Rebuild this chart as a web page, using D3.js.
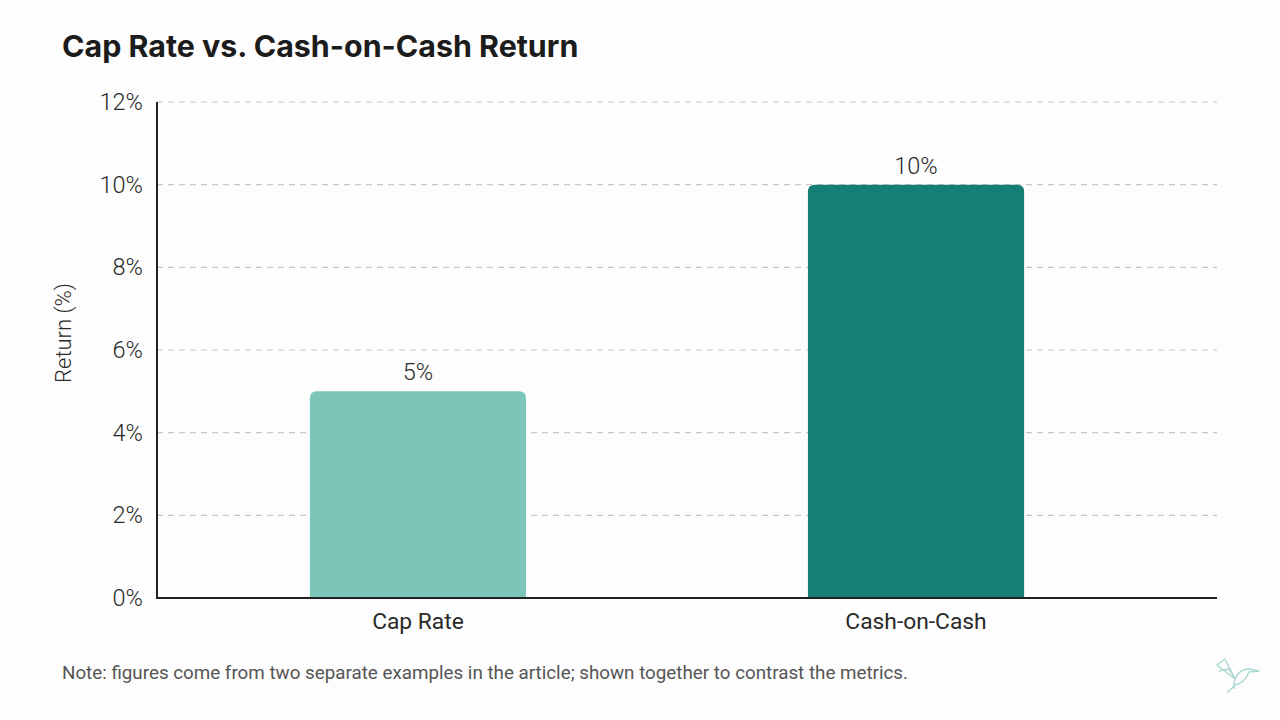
<!DOCTYPE html>
<html>
<head>
<meta charset="utf-8">
<script src="https://cdn.jsdelivr.net/npm/d3@7"></script>
<style>
  html, body { margin: 0; padding: 0; background: #fdfdfd; }
  svg { display: block; }
  text { font-family: Roboto, "Noto Sans", sans-serif; }
</style>
</head>
<body>
<svg id="chart" width="1280" height="720"></svg>
<script>
const categories = ["Cap Rate", "Cash-on-Cash"];
const values = [5, 10];
const barColors = ["#7bc6b9", "#147f75"];
const yTicks = [0, 2, 4, 6, 8, 10, 12];
const titleText = "Cap Rate vs. Cash-on-Cash Return";
const yAxisLabel = "Return (%)";
const noteText = "Note: figures come from two separate examples in the article; shown together to contrast the metrics.";

(function () {
const svg = d3.select("#chart");
const pLeft = 157, pRight = 1217, pTop = 102, pBottom = 598;
const bodyFont = "Roboto, sans-serif";

const y = d3.scaleLinear().domain([0, 12]).range([pBottom, pTop]);
const x = d3.scaleBand().domain(categories).range([pLeft, 1177]).paddingInner(0.566).paddingOuter(0.307);

svg.append("rect").attr("width", 1280).attr("height", 720).attr("fill", "#fdfdfd");

// title
svg.append("text").attr("x", 62).attr("y", 57)
  .style("font-family", "Inter, sans-serif")
  .attr("font-size", 30.4).attr("font-weight", 700).attr("fill", "#1c1c1c")
  .text(titleText);

// grid
svg.append("g").selectAll("line").data(yTicks.filter(d => d > 0)).join("line")
  .attr("x1", pLeft).attr("x2", pRight)
  .attr("y1", d => y(d)).attr("y2", d => y(d))
  .attr("stroke", "#c8c8c8").attr("stroke-width", 1.2).attr("stroke-dasharray", "6,5");

// y axis tick labels
const yAxis = d3.axisLeft(y).tickValues(yTicks).tickFormat(d => d + "%").tickSize(0).tickPadding(14);
const gy = svg.append("g").attr("transform", `translate(${pLeft},0)`).call(yAxis);
gy.select(".domain").remove();
gy.selectAll("text").attr("font-size", 23.5).attr("fill", "#2a2a2a")
  .style("font-family", bodyFont).attr("font-weight", 300);

// bars with rounded top
const r = 7;
function barPath(x0, w, yTop, yBot) {
  return `M${x0},${yBot} L${x0},${yTop + r} Q${x0},${yTop} ${x0 + r},${yTop} L${x0 + w - r},${yTop} Q${x0 + w},${yTop} ${x0 + w},${yTop + r} L${x0 + w},${yBot} Z`;
}
svg.append("g").selectAll("path").data(categories).join("path")
  .attr("d", (c, i) => barPath(x(c), x.bandwidth(), y(values[i]), y(0)))
  .attr("fill", (c, i) => barColors[i]);

// value labels
svg.append("g").selectAll("text").data(categories).join("text")
  .attr("x", c => x(c) + x.bandwidth() / 2)
  .attr("y", (c, i) => y(values[i]) - 11)
  .attr("text-anchor", "middle").attr("font-size", 23.5).attr("font-weight", 300).attr("fill", "#2a2a2a")
  .style("font-family", bodyFont)
  .text((c, i) => values[i] + "%");

// axes lines
svg.append("line").attr("x1", pLeft).attr("x2", pLeft).attr("y1", pTop).attr("y2", pBottom)
  .attr("stroke", "#222").attr("stroke-width", 2);
svg.append("line").attr("x1", pLeft - 1).attr("x2", pRight).attr("y1", pBottom).attr("y2", pBottom)
  .attr("stroke", "#222").attr("stroke-width", 2);

// x labels
const xAxis = d3.axisBottom(x).tickSize(0).tickPadding(15);
const gx = svg.append("g").attr("transform", `translate(0,${pBottom})`).call(xAxis);
gx.select(".domain").remove();
gx.selectAll("text").attr("font-size", 22.8).attr("fill", "#2a2a2a")
  .style("font-family", bodyFont).attr("font-weight", 400);

// y label
svg.append("text").attr("transform", `translate(71,333) rotate(-90)`)
  .attr("text-anchor", "middle").attr("font-size", 22).attr("font-weight", 300).attr("fill", "#2a2a2a")
  .style("font-family", bodyFont)
  .text(yAxisLabel);

// note
svg.append("text").attr("x", 62).attr("y", 679)
  .attr("font-size", 18.8).attr("font-weight", 400).attr("fill", "#555")
  .style("font-family", bodyFont)
  .text(noteText);

// hummingbird logo
const logo = svg.append("g").attr("transform", "translate(1215,655)")
  .attr("fill", "none").attr("stroke", "#a9d6cf").attr("stroke-width", 1.3).attr("stroke-linejoin", "round");
logo.append("path").attr("d", "M2,10 L10,4 L20,24 Z");
logo.append("path").attr("d", "M4,16 L14,14 L20,24");
logo.append("path").attr("d", "M20,24 Q24,14 34,14 L44,16 L34,17 Q30,28 20,30 L12,38");
logo.append("path").attr("d", "M20,24 Q18,30 20,34");
})();
</script>
</body>
</html>
